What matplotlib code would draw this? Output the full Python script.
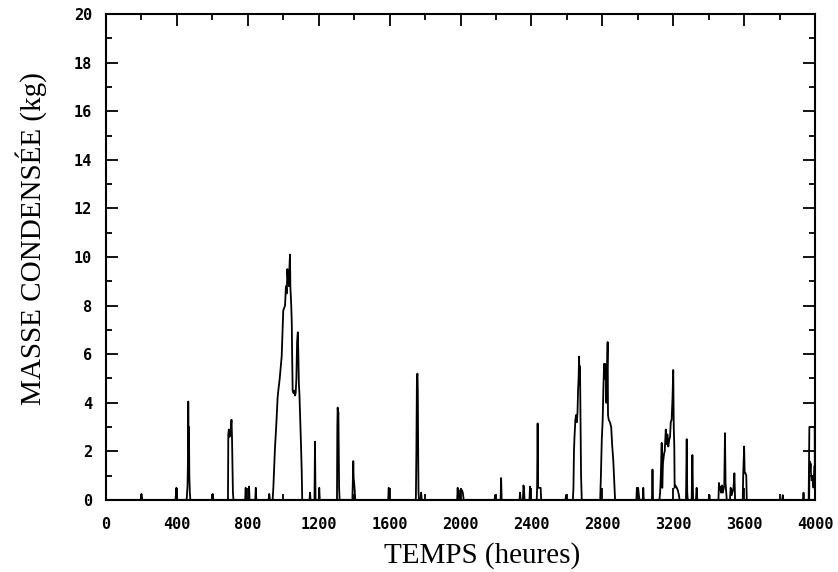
import matplotlib
matplotlib.use("Agg")
import matplotlib.pyplot as plt
from matplotlib.ticker import MultipleLocator

# Condensed mass time series (hours, kg)
temps = [
    0, 195, 200, 205, 392, 397, 402,
    455, 460, 462, 464, 466, 468, 470, 473, 476,
    598, 602, 606,
    688, 690, 693, 697, 700, 704, 708, 711, 714, 716, 719,
    785, 788, 791, 804, 807, 810, 842, 845, 848, 917, 921, 925,
    940, 944, 950, 953, 960, 968, 972, 980, 991, 996, 1000, 1005, 1010, 1015,
    1020, 1023, 1027, 1030, 1032, 1035, 1038, 1040, 1042, 1045, 1048, 1050,
    1053, 1058, 1062, 1066, 1070, 1074, 1078, 1082, 1085, 1088, 1091, 1094,
    1097, 1100, 1104, 1107,
    1148, 1151, 1154, 1176, 1179, 1182, 1200, 1203, 1206,
    1303, 1305, 1307, 1309, 1311, 1313, 1315, 1318,
    1390, 1393, 1395, 1397, 1400, 1403, 1406,
    1592, 1595, 1598,
    1748, 1751, 1754, 1757, 1759, 1761, 1763, 1766, 1775, 1778, 1781,
    1981, 1984, 1987, 1995, 1998, 2003, 2008, 2013, 2018,
    2192, 2195, 2198, 2226, 2229, 2232, 2333, 2336, 2339,
    2352, 2355, 2358, 2361, 2389, 2392, 2395,
    2430, 2432, 2435, 2438, 2452, 2455,
    2592, 2595, 2598,
    2634, 2637, 2640, 2643, 2648, 2652, 2656, 2660, 2663, 2666, 2669, 2671,
    2674, 2677, 2680, 2684,
    2788, 2792, 2797, 2802, 2806, 2810, 2813, 2816, 2820, 2823, 2826, 2830,
    2832, 2836, 2843, 2850, 2856, 2862, 2867, 2872,
    2992, 2995, 2998, 3002, 3006, 3010, 3028, 3031, 3034, 3080, 3083, 3086,
    3122, 3126, 3130, 3135, 3138, 3142, 3148, 3152, 3158, 3162, 3167, 3172,
    3178, 3182, 3186, 3191, 3196, 3200, 3203, 3206, 3208, 3212, 3220, 3226,
    3232, 3236,
    3272, 3276, 3279, 3282, 3304, 3308, 3312, 3328, 3332, 3336, 3401, 3404, 3407,
    3455, 3458, 3462, 3466, 3470, 3475, 3480, 3488, 3492, 3495, 3498, 3502,
    3520, 3524, 3530, 3540, 3545, 3549,
    3592, 3595, 3600, 3603, 3608, 3612, 3615,
    3815, 3818, 3821, 3932, 3935, 3938,
    3964, 3966, 3968, 3998, 3999, 4000,
]
masse = [
    0, 0, 0.25, 0, 0, 0.5, 0,
    0, 0.6, 1.5, 4.05, 2.0, 3.0, 1.0, 0.3, 0,
    0, 0.25, 0,
    0, 2.7, 2.9, 2.6, 2.8, 2.9, 3.3, 2.5, 1.0, 0.3, 0,
    0, 0.5, 0, 0, 0.55, 0, 0, 0.5, 0, 0, 0.25, 0,
    0, 0.5, 1.5, 2.1, 3.0, 4.2, 4.5, 5.0, 5.9, 7.0, 7.8, 7.9, 8.0, 8.8,
    8.5, 9.5, 9.0, 9.3, 8.8, 9.6, 10.1, 8.8, 8.5, 8.0, 7.3, 6.0,
    4.5, 4.4, 4.5, 4.3, 4.4, 5.0, 6.5, 6.9, 6.0, 4.8, 4.4, 3.7,
    3.0, 2.3, 1.2, 0,
    0, 0.3, 0, 0, 2.4, 0, 0, 0.5, 0,
    0, 3.0, 3.8, 3.5, 3.6, 2.0, 0.5, 0,
    0, 1.0, 1.6, 0.9, 0.7, 0.4, 0,
    0, 0.5, 0,
    0, 2.0, 5.0, 5.2, 4.5, 2.0, 0.3, 0, 0, 0.3, 0,
    0, 0.5, 0, 0, 0.4, 0.35, 0.4, 0.3, 0,
    0, 0.2, 0, 0, 0.9, 0, 0, 0.3, 0,
    0, 0.6, 0.5, 0, 0, 0.55, 0,
    0, 0.5, 3.15, 0.5, 0.5, 0,
    0, 0.2, 0,
    0, 0.5, 2.0, 2.6, 3.3, 3.5, 3.2, 3.6, 4.5, 5.0, 5.9, 4.8,
    5.5, 3.0, 1.0, 0,
    0, 1.0, 2.5, 3.3, 4.6, 5.6, 5.0, 5.6, 5.2, 4.0, 5.0, 6.5,
    3.5, 3.3, 3.2, 3.0, 2.2, 1.6, 0.8, 0,
    0, 0.5, 0.3, 0.5, 0.2, 0, 0, 0.5, 0, 0, 1.25, 0,
    0, 0.3, 1.0, 2.35, 0.5, 1.5, 1.9, 2.0, 2.9, 2.3, 2.7, 2.2,
    2.5, 2.6, 3.2, 3.3, 4.2, 5.35, 3.0, 2.2, 0.5, 0.6, 0.5, 0.4,
    0.2, 0,
    0, 2.5, 0.3, 0, 0, 1.85, 0, 0, 0.5, 0, 0, 0.2, 0,
    0, 0.7, 0.4, 0.55, 0.3, 0.6, 0.3, 0.6, 2.75, 0.7, 0.4, 0,
    0, 0.5, 0.2, 0.5, 1.1, 0,
    0, 1.1, 2.2, 1.1, 1.1, 1.0, 0,
    0, 0.2, 0, 0, 0.3, 0,
    0, 1.5, 3.0, 3.0, 1.0, 0.8,
]
# Inner trace within the last event
temps_fin = [3968, 3970, 3973, 3976, 3980, 3985, 3990, 3995, 4000]
masse_fin = [0, 1.6, 1.2, 1.5, 0.8, 1.0, 0.5, 1.4, 0.3]

x_ticks = [0, 400, 800, 1200, 1600, 2000, 2400, 2800, 3200, 3600, 4000]
y_ticks = [0, 2, 4, 6, 8, 10, 12, 14, 16, 18, 20]

fig = plt.figure(figsize=(8.38, 5.72), dpi=100)
ax = fig.add_axes([0.1265, 0.1259, 0.8461, 0.8496])

ax.plot(temps, masse, color="black", lw=1.3)
ax.plot(temps_fin, masse_fin, color="black", lw=1.0)
ax.axhline(0, color="black", lw=1.5)

ax.set_xlim(0, 4000)
ax.set_ylim(0, 20)
ax.set_xticks(x_ticks)
ax.set_yticks(y_ticks)
ax.xaxis.set_minor_locator(MultipleLocator(200))
ax.yaxis.set_minor_locator(MultipleLocator(1))

tickfont = dict(family="DejaVu Sans Mono", weight="bold", size=11)
ax.set_xticklabels([str(v) for v in x_ticks], fontdict=tickfont)
ax.set_yticklabels([str(v) for v in y_ticks], fontdict=tickfont)

ax.tick_params(which="both", direction="in", top=True, right=True, width=1.3)
ax.tick_params(which="major", length=8.5)
ax.tick_params(which="minor", length=4.5)
ax.tick_params(axis="x", which="major", pad=12)
ax.tick_params(axis="y", which="major", pad=10)

for s in ax.spines.values():
    s.set_linewidth(1.5)

ax.set_xlabel("TEMPS (heures)", family="Liberation Serif", fontsize=21)
ax.set_ylabel("MASSE CONDENSÉE (kg)", family="Liberation Serif", fontsize=21)
ax.xaxis.set_label_coords(0.53, -0.086)
ax.yaxis.set_label_coords(-0.083, 0.537)

fig.savefig("out.png", dpi=100)
